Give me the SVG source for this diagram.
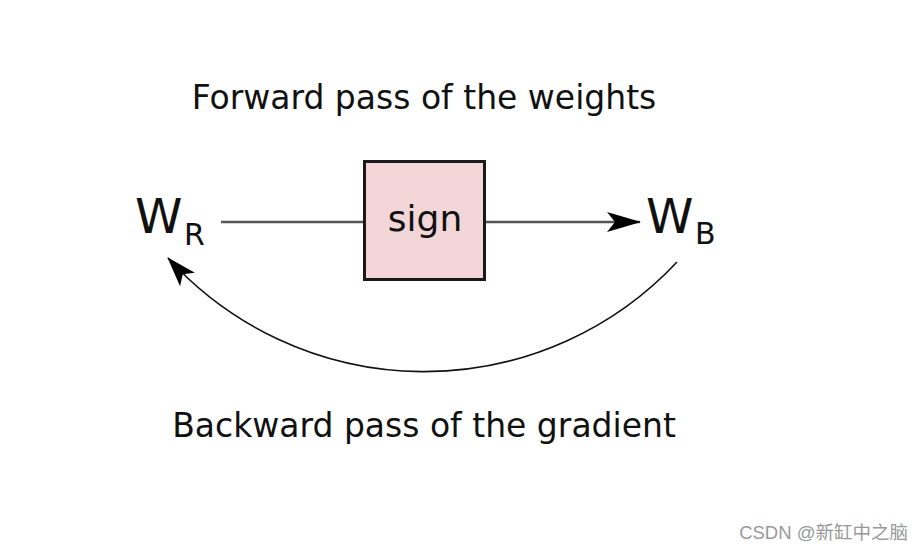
<svg xmlns="http://www.w3.org/2000/svg" width="922" height="551" viewBox="0 0 922 551">
<style>
.t{font-family:"DejaVu Sans",sans-serif;fill:#111}
.lbl{font-size:33px}
.w{font-size:48px}
.sub{font-size:30px}
.ln{fill:none;stroke:#555;stroke-width:2.5}
.arc{fill:none;stroke:#111;stroke-width:1.6}
</style>
<defs>
<marker id="ah" viewBox="0 0 34 24" refX="33" refY="12" markerWidth="34" markerHeight="24" markerUnits="userSpaceOnUse" orient="auto">
<path d="M0,2 L34,12 L0,22 L8,12 Z" fill="#000"/>
</marker>
<marker id="ah2" viewBox="0 0 30 22" refX="29" refY="11" markerWidth="30" markerHeight="22" markerUnits="userSpaceOnUse" orient="auto">
<path d="M0,1 L30,11 L0,21 L7,11 Z" fill="#000"/>
</marker>
</defs>
<rect width="922" height="551" fill="#fff"/>
<g id="connectors">
<line class="ln" x1="221" y1="222" x2="363" y2="222"/>
<line class="ln" x1="485" y1="222" x2="640" y2="222" marker-end="url(#ah)"/>
<path class="arc" d="M677,262 A346,346 0 0 1 168,258" marker-end="url(#ah2)"/>
</g>
<g id="sign">
<rect x="364.5" y="161.5" width="120" height="118" fill="#f2d6d8" stroke="#1a1a1a" stroke-width="3"/>
<text class="t" font-size="36" x="425" y="231" text-anchor="middle">sign</text>
</g>
<g id="WR">
<text class="t w" x="135" y="233">W</text>
<text class="t sub" x="184" y="245">R</text>
</g>
<g id="WB">
<text class="t w" x="646" y="233">W</text>
<text class="t sub" x="695" y="244">B</text>
</g>
<text class="t lbl" x="424" y="109" text-anchor="middle">Forward pass of the weights</text>
<text class="t lbl" x="424" y="437" text-anchor="middle">Backward pass of the gradient</text>
<text x="908" y="539" text-anchor="end" font-family="'Liberation Sans','Noto Sans CJK SC',sans-serif" font-size="18.5" fill="#999">CSDN @新缸中之脑</text>
</svg>
